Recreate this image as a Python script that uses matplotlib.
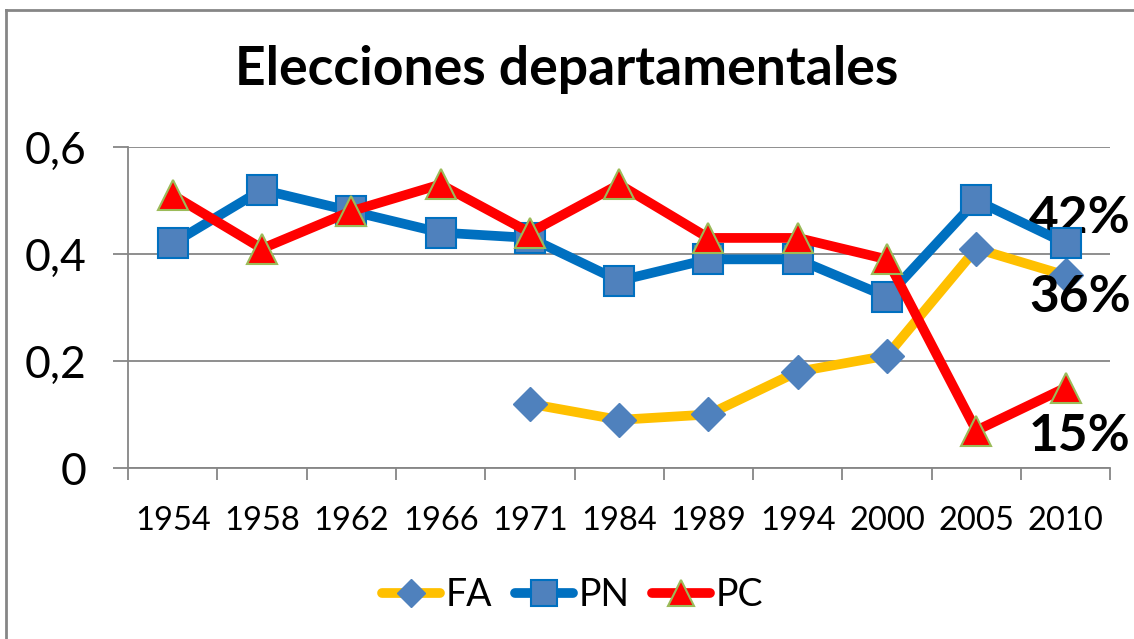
import numpy as np
import matplotlib.pyplot as plt
from matplotlib.lines import Line2D
from matplotlib.ticker import FixedLocator, FuncFormatter

years = ["1954", "1958", "1962", "1966", "1971", "1984", "1989", "1994", "2000", "2005", "2010"]
fa = [np.nan, np.nan, np.nan, np.nan, 0.12, 0.09, 0.10, 0.18, 0.21, 0.41, 0.36]
pn = [0.42, 0.52, 0.48, 0.44, 0.43, 0.35, 0.39, 0.39, 0.32, 0.50, 0.42]
pc = [0.51, 0.41, 0.48, 0.53, 0.44, 0.53, 0.43, 0.43, 0.39, 0.07, 0.15]
end_labels = ["36%", "42%", "15%"]

plt.rcParams['font.family'] = ['Lato', 'DejaVu Sans']

fig = plt.figure(figsize=(11.34, 6.39), dpi=100)
ax = fig.add_axes([0.113, 0.2676, 0.866, 0.5024])

x = np.arange(len(years))
grid_col = "#868686"

ax.plot(x, fa, color="#FFC000", lw=7, marker="D", ms=17, mfc="#4F81BD",
        mec="#4F81BD", solid_joinstyle="round", solid_capstyle="round",
        clip_on=False, zorder=3, label="FA")
ax.plot(x, pn, color="#0070C0", lw=7, marker="s", ms=22, mfc="#4F81BD",
        mec="#0070C0", mew=1.5, solid_joinstyle="round", solid_capstyle="round",
        clip_on=False, zorder=4, label="PN")
ax.plot(x, pc, color="#FF0000", lw=7, marker="^", ms=22, mfc="#FF0000",
        mec="#9BBB59", mew=1.5, solid_joinstyle="round", solid_capstyle="round",
        clip_on=False, zorder=5, label="PC")

ax.set_xlim(-0.5, len(years) - 0.5)
ax.set_ylim(0, 0.6)
ax.set_yticks([0, 0.2, 0.4, 0.6])
ax.yaxis.set_major_formatter(FuncFormatter(lambda v, p: "0" if v == 0 else f"{v:.1f}".replace(".", ",")))
ax.yaxis.grid(True, color=grid_col, lw=1.3)
ax.set_axisbelow(True)

ax.set_xticks(x)
ax.set_xticklabels(years)
ax.xaxis.set_minor_locator(FixedLocator(np.arange(-0.5, len(years), 1)))
ax.tick_params(axis="x", which="major", length=0, labelsize=23.5, pad=27)
ax.tick_params(axis="x", which="minor", length=8.6, width=1.3, color=grid_col)
ax.tick_params(axis="y", length=11, width=1.3, color=grid_col, labelsize=32, pad=19)

for s in ["top", "right"]:
    ax.spines[s].set_visible(False)
for s in ["left", "bottom"]:
    ax.spines[s].set_color(grid_col)
    ax.spines[s].set_linewidth(1.3)

# end-of-series labels
last = len(years) - 1
ax.text(last + 0.16, fa[last] - 0.042, end_labels[0], fontsize=37, fontweight="bold",
        ha="center", va="center")
ax.text(last + 0.16, pn[last] + 0.047, end_labels[1], fontsize=37, fontweight="bold",
        ha="center", va="center")
ax.text(last + 0.16, pc[last] - 0.092, end_labels[2], fontsize=37, fontweight="bold",
        ha="center", va="center")

fig.text(0.5, 1 - 70 / 639, "Elecciones departamentales", fontsize=38.5, fontweight="bold",
         ha="center", va="center")

leg = fig.legend(loc="center", bbox_to_anchor=(0.505, 1 - 595 / 639), ncol=3, frameon=False,
                 fontsize=27, handlelength=1.55, handletextpad=0.15, columnspacing=0.6,
                 markerscale=0.85)

# outer chart border
fig.add_artist(Line2D([5.5 / 1134, 5.5 / 1134], [0, 1 - 10 / 639], transform=fig.transFigure,
                      color=grid_col, lw=2))
fig.add_artist(Line2D([5.5 / 1134, 1], [1 - 10 / 639, 1 - 10 / 639], transform=fig.transFigure,
                      color=grid_col, lw=2))

fig.savefig("out.png", dpi=100)
